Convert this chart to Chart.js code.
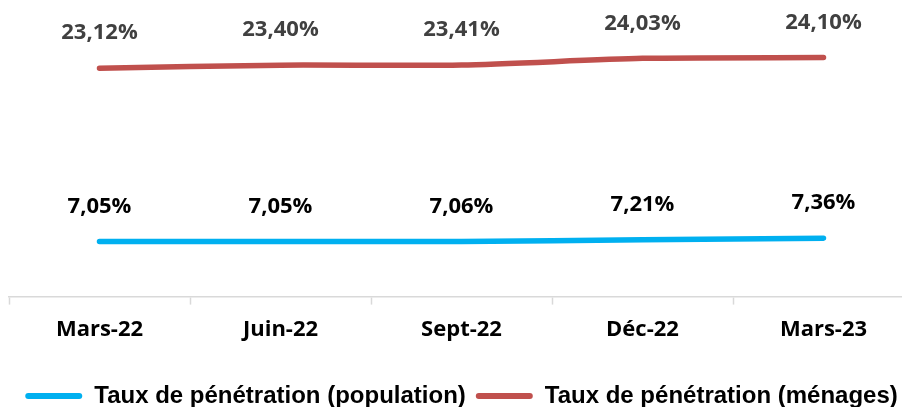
<!DOCTYPE html>
<html>
<head>
<meta charset="utf-8">
<script src="https://cdn.jsdelivr.net/npm/chart.js@4"></script>
<style>
  html, body { margin: 0; padding: 0; background: #fff; overflow: hidden; width: 902px; height: 407px; }
  #wrap { width: 916px; height: 418px; position: relative; }
</style>
</head>
<body>
<div id="wrap"><canvas id="penetrationChart"></canvas></div>
<script>
// chart data
const categories = ["Mars-22", "Juin-22", "Sept-22", "Déc-22", "Mars-23"];
const populationRates = [7.05, 7.05, 7.06, 7.21, 7.36];
const householdRates = [23.12, 23.40, 23.41, 24.03, 24.10];
const seriesNames = ["Taux de pénétration (population)", "Taux de pénétration (ménages)"];

const BLUE = "#00B0F0";
const RED = "#C0504D";

// value labels above each point, French decimal comma
const pointLabels = {
  id: "pointLabels",
  afterDatasetsDraw(chart) {
    const ctx = chart.ctx;
    ctx.save();
    ctx.font = "bold 22px 'Open Sans'";
    ctx.textAlign = "center";
    ctx.textBaseline = "middle";
    chart.data.datasets.forEach((ds, i) => {
      const meta = chart.getDatasetMeta(i);
      ctx.fillStyle = ds.labelColor;
      meta.data.forEach((pt, j) => {
        const txt = ds.data[j].toFixed(2).replace(".", ",") + "%";
        ctx.fillText(txt, pt.x, pt.y - 35);
      });
    });
    ctx.restore();
  }
};

const ctx = document.getElementById("penetrationChart").getContext("2d");
new Chart(ctx, {
  type: "line",
  data: {
    labels: categories,
    datasets: [
      {
        label: seriesNames[0],
        data: populationRates,
        borderColor: BLUE,
        backgroundColor: BLUE,
        labelColor: "#000000",
        borderWidth: 5.5,
        borderCapStyle: "round",
        tension: 0.25,
        pointRadius: 0
      },
      {
        label: seriesNames[1],
        data: householdRates,
        borderColor: RED,
        backgroundColor: RED,
        labelColor: "#404040",
        borderWidth: 5.5,
        borderCapStyle: "round",
        tension: 0.25,
        pointRadius: 0
      }
    ]
  },
  options: {
    responsive: true,
    maintainAspectRatio: false,
    animation: false,
    layout: { padding: { left: 9, right: 2, top: 0, bottom: 0 } },
    scales: {
      x: {
        offset: true,
        border: { display: true, color: "#D9D9D9", width: 1.5 },
        grid: {
          offset: true,
          drawOnChartArea: false,
          drawTicks: true,
          tickLength: 8,
          tickColor: "#D9D9D9",
          tickWidth: 1.5
        },
        ticks: {
          color: "#000000",
          font: { family: "'Open Sans'", size: 22, weight: "bold" },
          padding: 12,
          maxRotation: 0
        },
        afterFit(scale) {
          scale.height += 19;
        }
      },
      y: {
        display: false,
        min: 1.94,
        max: 29.44
      }
    },
    plugins: {
      tooltip: { enabled: false },
      legend: {
        position: "bottom",
        labels: {
          color: "#000000",
          font: { family: "'Liberation Sans'", size: 24, weight: "bold" },
          boxWidth: 57,
          boxHeight: 6,
          useBorderRadius: true,
          borderRadius: 3,
          padding: 10,
          generateLabels(chart) {
            const items = Chart.defaults.plugins.legend.labels.generateLabels(chart);
            return items.map(it => ({ ...it, lineWidth: 0 }));
          }
        }
      }
    }
  },
  plugins: [pointLabels]
});
</script>
</body>
</html>
